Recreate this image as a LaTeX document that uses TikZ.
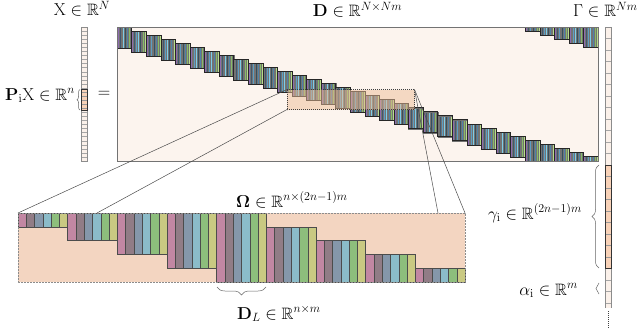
\documentclass[tikz,border=0pt]{standalone}
\usepackage{amsmath,amssymb,bm}
\usetikzlibrary{decorations.pathreplacing,calc}
\definecolor{dbg}{HTML}{FCF4EE}
\definecolor{omg}{HTML}{F3D5C1}
\definecolor{hlc}{HTML}{EDBE98}
\definecolor{vecbg}{HTML}{FBF1EA}
\definecolor{hlv}{HTML}{F8D2B8}
\definecolor{da}{HTML}{8E6CB0}
\definecolor{db}{HTML}{3E5870}
\definecolor{dc}{HTML}{5B9EC4}
\definecolor{dd}{HTML}{7CCDE8}
\definecolor{de}{HTML}{34505E}
\definecolor{df}{HTML}{4F83A8}
\definecolor{dg}{HTML}{86BC66}
\definecolor{dh}{HTML}{B8DC8A}
\definecolor{oa}{HTML}{C287A3}
\definecolor{ob}{HTML}{917C86}
\definecolor{oc}{HTML}{8597AA}
\definecolor{od}{HTML}{8BBCC9}
\definecolor{oe}{HTML}{8DBE7C}
\definecolor{of}{HTML}{C9C982}
\newcommand\DBlk[3]{%
  \foreach \s/\c in {0/da,1/db,2/dc,3/dd,4/de,5/df,6/dg,7/dh}{
    \filldraw[fill=\c, draw=black!55, line width=0.2pt] ({#1+\s*1.822},#2) rectangle ++(1.822,#3);
  }
  \draw[black!85, line width=0.4pt] (#1,#2) rectangle ++(14.576,#3);
}
\begin{document}
\begin{tikzpicture}[x=1pt,y=-1pt,
  lbl/.style={font=\fontsize{16.5}{19}\selectfont, inner sep=0pt, anchor=base},
  conn/.style={draw=black!70, line width=0.5pt},
  tick/.style={draw=black!35, line width=0.3pt},
  vecbox/.style={draw=black!45, line width=0.5pt},
  hlbox/.style={draw=black!80, line width=0.9pt},
  brc/.style={draw=black!60, line width=0.5pt, decorate},
  dots/.style={draw=black!75, line width=0.8pt, dash pattern=on 0.8pt off 1.2pt}]
\useasboundingbox (0,0) rectangle (640,329);

% ---------- D matrix ----------
\fill[dbg] (117,27) rectangle (598,161);
\begin{scope}
  \clip (117,27) rectangle (598,161);
  \foreach \k in {0,...,32}{
    \pgfmathsetmacro\xa{117+14.576*\k}
    \pgfmathsetmacro\ya{27+4.03*\k}
    \DBlk{\xa}{\ya}{21}
  }
  \foreach \k in {28,...,32}{
    \pgfmathsetmacro\xa{117+14.576*\k}
    \pgfmathsetmacro\hh{4*(\k-27)}
    \DBlk{\xa}{27}{\hh}
  }
\end{scope}
\draw[black!55, line width=0.8pt] (117,27) rectangle (598,161);

% highlight in D
\coordinate (hlTL) at (287,89.5);
\coordinate (hlBL) at (287,109.5);
\coordinate (hlTR) at (414.5,89.5);
\coordinate (hlBR) at (414.5,109.5);
\fill[hlc, opacity=0.5] (hlTL) rectangle (hlBR);
\draw[dots] (hlTL) rectangle (hlBR);

% ---------- Omega ----------
\coordinate (omTL) at (18,213);
\coordinate (omBR) at (465,282);
\coordinate (omA) at (97,213);
\coordinate (omB) at (438,213);
\coordinate (omTR) at (465,213);
\fill[omg] (omTL) rectangle (omBR);
\foreach \g in {0,...,8}{
  \pgfmathsetmacro\top{\g<5 ? 213 : 282-(9-\g)*13.8}
  \pgfmathsetmacro\bot{\g<5 ? 213+(\g+1)*13.8 : 282}
  \foreach \c/\col in {0/oa,1/ob,2/oc,3/od,4/oe,5/of}{
    \pgfmathsetmacro\xx{18+(\g*6+\c)*8.2778}
    \filldraw[fill=\col, draw=black!70, line width=0.4pt] (\xx,\top) rectangle ({\xx+8.2778},\bot);
  }
}
\draw[black!45, line width=0.7pt, dash pattern=on 0.6pt off 0.9pt] (omTL) rectangle (omBR);

% connectors
\draw[conn] (hlTL) -- (omTL);
\draw[conn] (hlBL) -- (omA);
\draw[conn] (hlTR) -- (omB);
\draw[conn] (hlTR) -- (omTR);

% ---------- X vector ----------
\fill[vecbg] (81.5,27) rectangle (87,161);
\foreach \i in {1,...,32}{
  \draw[tick] (81.5,{27+\i*4.06}) -- (87,{27+\i*4.06});
}
\fill[hlv] (81.5,89.5) rectangle (87,110);
\foreach \i in {16,...,20}{
  \draw[draw=black!40, line width=0.3pt] (81.5,{27+\i*4.06}) -- (87,{27+\i*4.06});
}
\draw[vecbox] (81.5,27) rectangle (87,161);
\draw[hlbox] (81.5,89.5) rectangle (87,110);

% ---------- Gamma vector ----------
\fill[vecbg] (605,27) rectangle (611,308);
\foreach \i in {1,...,24}{
  \draw[tick] (605,{27+\i*11.5}) -- (611,{27+\i*11.5});
}
\fill[hlv] (605,165) rectangle (611,268.5);
\foreach \i in {13,...,20}{
  \draw[draw=black!40, line width=0.3pt] (605,{27+\i*11.5}) -- (611,{27+\i*11.5});
}
\draw[vecbox] (605,308) -- (605,27) -- (611,27) -- (611,308);
\draw[hlbox] (605,165) rectangle (611,268.5);
\draw[dots] (608,311) -- (608,329);

% ---------- braces ----------
\draw[brc, decoration={brace, amplitude=3pt}] (80,110) -- (80,89.5);
\draw[brc, decoration={brace, amplitude=7pt}] (599,268) -- (599,165);
\draw[brc, decoration={brace, amplitude=8pt}] (266,287) -- (217,287);
\draw[brc, decoration={brace, amplitude=3pt}] (599,294) -- (599,283);

% ---------- labels ----------
\node[lbl] (xlab) at (82,16) {$\mathrm{X}\in\mathbb{R}^{N}$};
\node[lbl, anchor=base east] (pxlab) at (75,100) {$\mathbf{P}_{\mathrm{i}}\mathrm{X}\in\mathbb{R}^{n}$};
\node[lbl, anchor=center] (eq) at (104,94) {$=$};
\node[lbl] (dlab) at (357.5,17) {$\mathbf{D}\in\mathbb{R}^{N\times Nm}$};
\node[lbl, anchor=base west] (glab) at (573,17) {$\Gamma\in\mathbb{R}^{Nm}$};
\node[lbl, anchor=base west] (olab) at (236,207) {$\bm{\Omega}\in\mathbb{R}^{n\times(2n-1)m}$};
\node[lbl, anchor=base west] (dllab) at (237,319) {$\mathbf{D}_{L}\in\mathbb{R}^{n\times m}$};
\node[lbl, anchor=base east] (gilab) at (582,219) {$\gamma_{\mathrm{i}}\in\mathbb{R}^{(2n-1)m}$};
\node[lbl, anchor=base east] (ailab) at (578,295) {$\alpha_{\mathrm{i}}\in\mathbb{R}^{m}$};
\end{tikzpicture}
\end{document}
